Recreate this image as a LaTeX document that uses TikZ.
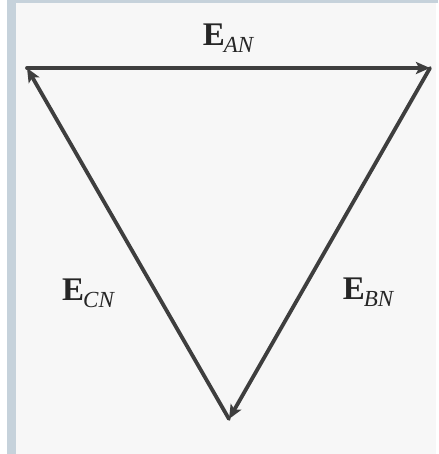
\documentclass[tikz,border=0pt]{standalone}
\usepackage{fontspec}
\setmainfont{Liberation Serif}
\usetikzlibrary{arrows.meta}
\definecolor{strip}{RGB}{198,210,219}
\definecolor{bg}{RGB}{247,247,247}
\definecolor{ink}{RGB}{62,62,62}
\newcommand{\vlab}[2]{{\fontsize{33}{36}\selectfont\bfseries #1}\kern-1pt\raisebox{-7pt}{\fontsize{23}{26}\selectfont\itshape #2}}
\begin{document}
\begin{tikzpicture}[x=1pt,y=-1pt,
  vec/.style={draw=ink,line width=3.8pt,line cap=round,line join=round,-{Stealth[length=14pt,width=12pt,inset=3pt]}},
  lbl/.style={text=black!85,inner sep=0pt}]
\useasboundingbox (0,0) rectangle (438,454);
\fill[white] (0,0) rectangle (438,454);
\fill[bg] (16,3) rectangle (436,454);
\fill[strip] (7,0) rectangle (16,454);
\fill[strip] (7,0) rectangle (438,3);
\coordinate (A) at (27,68);
\coordinate (B) at (430,68);
\coordinate (C) at (229,419);
\draw[vec] (A) -- (B);
\draw[vec] (B) -- (C);
\draw[vec] (C) -- (A);
\node[lbl] (eAN) at (228,38) {\vlab{E}{AN}};
\node[lbl] (eBN) at (368,292) {\vlab{E}{BN}};
\node[lbl] (eCN) at (88,293) {\vlab{E}{CN}};
\end{tikzpicture}
\end{document}
